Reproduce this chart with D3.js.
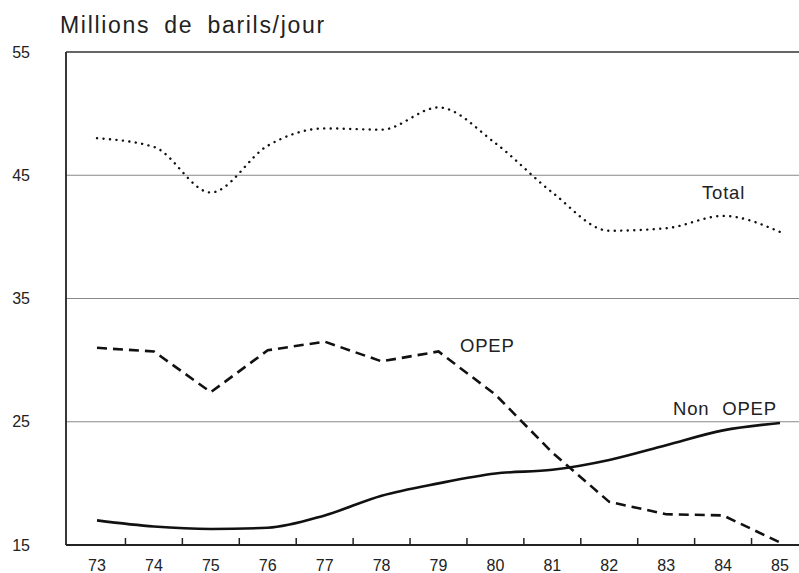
<!DOCTYPE html>
<html>
   <head>
      <script src="https://d3js.org/d3.v7.min.js"></script>
   </head>

   <style>
      body {
         margin: 0;
         background: white;
      }

      svg text {
         font-family: Arial, "Liberation Sans", sans-serif;
         fill: #222;
      }
   </style>
   <body>
      <svg id="chart" width="799" height="573"></svg>

      <script>
         let years = [73, 74, 75, 76, 77, 78, 79, 80, 81, 82, 83, 84, 85];
         let total = [48.0, 47.3, 43.6, 47.4, 48.8, 48.7, 50.5, 47.6, 43.6, 40.5, 40.7, 41.7, 40.4];
         let opep = [31.0, 30.7, 27.4, 30.8, 31.5, 29.9, 30.7, 27.2, 22.5, 18.5, 17.5, 17.4, 15.2];
         let nonOpep = [17.0, 16.5, 16.3, 16.4, 17.4, 19.0, 20.0, 20.8, 21.1, 21.9, 23.1, 24.3, 24.9];
         let yTicks = [15, 25, 35, 45, 55];
         let halfTicks = [73.5, 74.5, 75.5, 76.5, 77.5, 78.5, 79.5, 80.5, 81.5, 82.5, 83.5, 84.5];

         let svg = d3.select('#chart');

         let left = 66, right = 799;

         // scales
         let x = d3.scaleLinear().domain([73, 85]).range([97, 780]);
         let y = d3.scaleLinear().domain([15, 55]).range([545, 52]);

         // title
         svg.append('text')
            .attr('x', 60)
            .attr('y', 33)
            .attr('font-size', 23)
            .attr('letter-spacing', 1.7)
            .attr('word-spacing', 6)
            .text('Millions de barils/jour');

         // horizontal grid lines (top one is the frame)
         svg.selectAll('line.grid')
            .data(yTicks.filter(d => d > 15))
            .enter()
            .append('line')
            .attr('class', 'grid')
            .attr('x1', left)
            .attr('x2', right)
            .attr('y1', d => y(d))
            .attr('y2', d => y(d))
            .attr('stroke', d => d === 55 ? '#333' : '#888')
            .attr('stroke-width', d => d === 55 ? 1.5 : 1.2);

         // y tick labels
         svg.selectAll('text.ylab')
            .data(yTicks)
            .enter()
            .append('text')
            .attr('class', 'ylab')
            .attr('x', 30)
            .attr('y', d => y(d))
            .attr('dy', '0.35em')
            .attr('text-anchor', 'end')
            .attr('font-size', 16)
            .text(d => d);

         // left axis and bottom axis
         svg.append('line')
            .attr('x1', left).attr('x2', left)
            .attr('y1', y(55)).attr('y2', y(15))
            .attr('stroke', '#222').attr('stroke-width', 1.8);

         svg.append('line')
            .attr('x1', left).attr('x2', right)
            .attr('y1', y(15)).attr('y2', y(15))
            .attr('stroke', '#222').attr('stroke-width', 1.8);

         // small ticks between the years
         svg.selectAll('line.tick')
            .data(halfTicks)
            .enter()
            .append('line')
            .attr('class', 'tick')
            .attr('x1', d => x(d)).attr('x2', d => x(d))
            .attr('y1', y(15)).attr('y2', y(15) - 7)
            .attr('stroke', '#222').attr('stroke-width', 1.5);

         // year labels
         svg.selectAll('text.xlab')
            .data(years)
            .enter()
            .append('text')
            .attr('class', 'xlab')
            .attr('x', d => x(d))
            .attr('y', 571)
            .attr('text-anchor', 'middle')
            .attr('font-size', 16)
            .text(d => d);

         // series lines
         let smooth = d3.line()
            .x((d, i) => x(years[i]))
            .y(d => y(d))
            .curve(d3.curveMonotoneX);

         let straight = d3.line()
            .x((d, i) => x(years[i]))
            .y(d => y(d));

         svg.append('path')
            .attr('d', smooth(total))
            .attr('fill', 'none')
            .attr('stroke', '#111')
            .attr('stroke-width', 2.4)
            .attr('stroke-linecap', 'round')
            .attr('stroke-dasharray', '0.1 6.4');

         svg.append('path')
            .attr('d', straight(opep))
            .attr('fill', 'none')
            .attr('stroke', '#111')
            .attr('stroke-width', 2.6)
            .attr('stroke-dasharray', '10 6');

         svg.append('path')
            .attr('d', smooth(nonOpep))
            .attr('fill', 'none')
            .attr('stroke', '#111')
            .attr('stroke-width', 2.6);

         // series labels
         let labels = [
            {'name': 'Total', 'x': 702, 'y': 199},
            {'name': 'OPEP', 'x': 460, 'y': 352},
            {'name': 'Non OPEP', 'x': 673, 'y': 415},
         ];

         svg.selectAll('text.series')
            .data(labels)
            .enter()
            .append('text')
            .attr('class', 'series')
            .attr('x', d => d.x)
            .attr('y', d => d.y)
            .attr('font-size', 18.5)
            .attr('letter-spacing', 0.8)
            .attr('word-spacing', 7)
            .text(d => d.name);
      </script>
   </body>
</html>
